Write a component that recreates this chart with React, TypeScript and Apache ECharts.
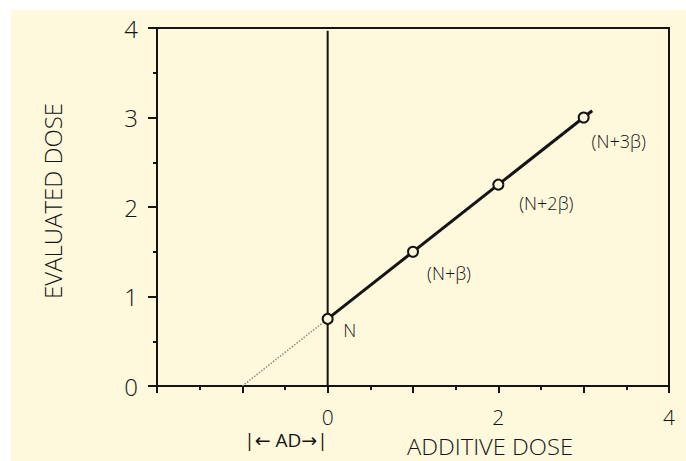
import React, { useEffect, useRef } from "react";
import * as echarts from "echarts";

const xTickLabels = [0, 2, 4];
const pointX = [0, 1, 2, 3];
const pointY = [0.75, 1.5, 2.25, 3];
const pointNames = ["N", "(N+β)", "(N+2β)", "(N+3β)"];
const labelOffsets: [number, number][] = [
  [22, 11],
  [36, 21],
  [48, 18],
  [35, 23],
];
const fitLine = [
  [0, 0.75],
  [3.1, 3.075],
];
const extrapolation = [
  [-1, 0],
  [0, 0.75],
];
const zeroLine = [
  [0, 0],
  [0, 3.97],
];

const INK = "#141414";
const CREAM = "#fef8dc";
const FONT = "'Open Sans', 'DejaVu Sans', sans-serif";

export default function App() {
  const ref = useRef<HTMLDivElement>(null);
  useEffect(() => {
    if (!ref.current) return;
    const chart = echarts.init(ref.current, undefined, { renderer: "svg" });
    chart.setOption({
      animation: false,
      backgroundColor: "transparent",
      grid: {
        left: 157,
        top: 28,
        width: 512,
        height: 358,
        show: true,
        borderColor: INK,
        borderWidth: 2,
        backgroundColor: "transparent",
      },
      xAxis: {
        type: "value",
        min: -2,
        max: 4,
        interval: 1,
        splitLine: { show: false },
        axisLine: { onZero: false, lineStyle: { color: INK, width: 2 } },
        axisTick: { show: true, length: 7, lineStyle: { color: INK, width: 2 } },
        minorTick: { show: true, splitNumber: 2, length: 4, lineStyle: { color: INK, width: 2 } },
        axisLabel: {
          margin: 20,
          fontSize: 21,
          fontFamily: FONT,
          fontWeight: 300,
          color: INK,
          formatter: (v: number) => (xTickLabels.includes(v) ? String(v) : ""),
        },
      },
      yAxis: {
        type: "value",
        min: 0,
        max: 4,
        interval: 1,
        splitLine: { show: false },
        axisLine: { onZero: false, lineStyle: { color: INK, width: 2 } },
        axisTick: { show: true, length: 9, lineStyle: { color: INK, width: 2 } },
        minorTick: { show: true, splitNumber: 2, length: 4, lineStyle: { color: INK, width: 2 } },
        axisLabel: {
          margin: 19,
          fontSize: 24,
          fontFamily: FONT,
          fontWeight: 300,
          color: INK,
        },
      },
      graphic: [
        {
          type: "text",
          x: 52,
          y: 201,
          rotation: Math.PI / 2,
          style: {
            text: "EVALUATED DOSE",
            fontSize: 24,
            fontFamily: FONT,
            fontWeight: 300,
            fill: INK,
            textAlign: "center",
            textVerticalAlign: "middle",
          },
        },
        {
          type: "text",
          x: 490,
          y: 447,
          scaleX: 1.08,
          style: {
            text: "ADDITIVE DOSE",
            fontSize: 22,
            fontFamily: FONT,
            fontWeight: 300,
            fill: INK,
            textAlign: "center",
            textVerticalAlign: "middle",
          },
        },
        {
          type: "text",
          x: 286,
          y: 440,
          style: {
            text: "|← AD→|",
            fontSize: 19,
            fontFamily: FONT,
            fontWeight: 400,
            fill: INK,
            textAlign: "center",
            textVerticalAlign: "middle",
          },
        },
      ],
      series: [
        {
          type: "line",
          data: extrapolation,
          symbol: "none",
          lineStyle: { color: "#8a8a80", width: 1.5, type: "dotted" },
          z: 2,
        },
        {
          type: "line",
          data: zeroLine,
          symbol: "none",
          lineStyle: { color: INK, width: 2 },
          z: 2,
        },
        {
          type: "line",
          data: fitLine,
          symbol: "none",
          lineStyle: { color: INK, width: 3 },
          z: 3,
        },
        {
          type: "scatter",
          z: 4,
          symbol: "circle",
          symbolSize: 10,
          itemStyle: { color: CREAM, borderColor: INK, borderWidth: 2, opacity: 1 },
          data: pointX.map((x, i) => ({
            value: [x, pointY[i]],
            name: pointNames[i],
            label: {
              show: true,
              position: "inside",
              offset: labelOffsets[i],
              formatter: pointNames[i],
              fontSize: 18,
              fontFamily: FONT,
              fontWeight: 300,
              color: INK,
            },
          })),
        },
      ],
    });
    return () => chart.dispose();
  }, []);

  return (
    <div style={{ position: "fixed", left: 0, top: 0, width: 686, height: 461, background: "#ffffff" }}>
      <div style={{ position: "absolute", left: 11, top: 10, right: 0, bottom: 0, background: CREAM }} />
      <div ref={ref} style={{ position: "absolute", left: 0, top: 0, width: 686, height: 461 }} />
    </div>
  );
}
